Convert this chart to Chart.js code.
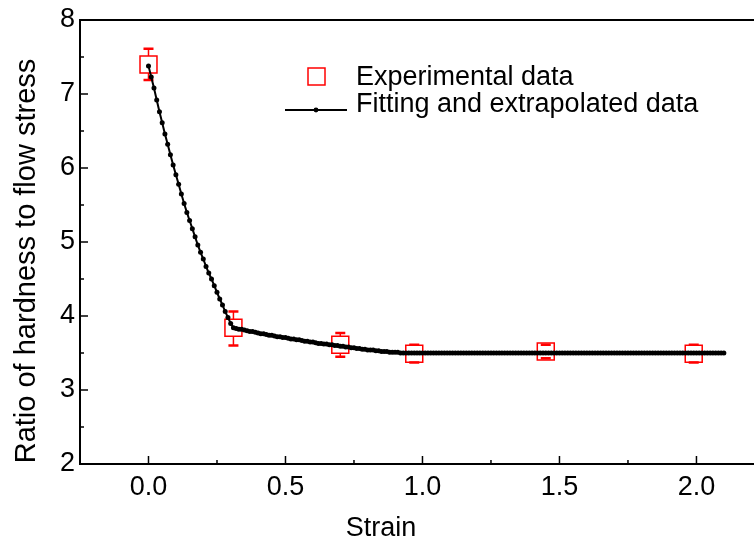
<!DOCTYPE html>
<html>
<head>
<meta charset="utf-8">
<script src="https://cdn.jsdelivr.net/npm/chart.js@4/dist/chart.umd.min.js"></script>
<style>
  html, body { margin: 0; padding: 0; background: #fff; overflow: hidden; }
  #chart { display: block; }
</style>
</head>
<body>
<canvas id="chart" width="754" height="549"></canvas>
<script>
// Experimental points with error bars
const expStrain = [0, 0.31, 0.70, 0.97, 1.45, 1.99];
const expRatio = [7.40, 3.84, 3.61, 3.49, 3.52, 3.49];
const expErrLow = [7.19, 3.60, 3.45, 3.37, 3.43, 3.37];
const expErrHigh = [7.61, 4.06, 3.77, 3.61, 3.61, 3.61];

// Fitted + extrapolated curve (one dot per 0.01 strain)
const fitStrain = [
  0.00, 0.01, 0.02, 0.03, 0.04, 0.05, 0.06, 0.07, 0.08, 0.09,
  0.10, 0.11, 0.12, 0.13, 0.14, 0.15, 0.16, 0.17, 0.18, 0.19,
  0.20, 0.21, 0.22, 0.23, 0.24, 0.25, 0.26, 0.27, 0.28, 0.29,
  0.30, 0.31, 0.32, 0.33, 0.34, 0.35, 0.36, 0.37, 0.38, 0.39,
  0.40, 0.41, 0.42, 0.43, 0.44, 0.45, 0.46, 0.47, 0.48, 0.49,
  0.50, 0.51, 0.52, 0.53, 0.54, 0.55, 0.56, 0.57, 0.58, 0.59,
  0.60, 0.61, 0.62, 0.63, 0.64, 0.65, 0.66, 0.67, 0.68, 0.69,
  0.70, 0.71, 0.72, 0.73, 0.74, 0.75, 0.76, 0.77, 0.78, 0.79,
  0.80, 0.81, 0.82, 0.83, 0.84, 0.85, 0.86, 0.87, 0.88, 0.89,
  0.90, 0.91, 0.92, 0.93, 0.94, 0.95, 0.96, 0.97, 0.98, 0.99,
  1.00, 1.01, 1.02, 1.03, 1.04, 1.05, 1.06, 1.07, 1.08, 1.09,
  1.10, 1.11, 1.12, 1.13, 1.14, 1.15, 1.16, 1.17, 1.18, 1.19,
  1.20, 1.21, 1.22, 1.23, 1.24, 1.25, 1.26, 1.27, 1.28, 1.29,
  1.30, 1.31, 1.32, 1.33, 1.34, 1.35, 1.36, 1.37, 1.38, 1.39,
  1.40, 1.41, 1.42, 1.43, 1.44, 1.45, 1.46, 1.47, 1.48, 1.49,
  1.50, 1.51, 1.52, 1.53, 1.54, 1.55, 1.56, 1.57, 1.58, 1.59,
  1.60, 1.61, 1.62, 1.63, 1.64, 1.65, 1.66, 1.67, 1.68, 1.69,
  1.70, 1.71, 1.72, 1.73, 1.74, 1.75, 1.76, 1.77, 1.78, 1.79,
  1.80, 1.81, 1.82, 1.83, 1.84, 1.85, 1.86, 1.87, 1.88, 1.89,
  1.90, 1.91, 1.92, 1.93, 1.94, 1.95, 1.96, 1.97, 1.98, 1.99,
  2.00, 2.01, 2.02, 2.03, 2.04, 2.05, 2.06, 2.07, 2.08, 2.09,
  2.10
];
const fitRatio = [
  7.38, 7.23, 7.08, 6.92, 6.76, 6.61, 6.46, 6.32, 6.18, 6.04,
  5.91, 5.78, 5.65, 5.52, 5.40, 5.29, 5.18, 5.07, 4.96, 4.86,
  4.77, 4.67, 4.58, 4.50, 4.41, 4.32, 4.23, 4.15, 4.06, 3.98,
  3.90, 3.84, 3.83, 3.82, 3.82, 3.81, 3.80, 3.79, 3.79, 3.78,
  3.77, 3.76, 3.76, 3.75, 3.74, 3.74, 3.73, 3.72, 3.72, 3.71,
  3.71, 3.70, 3.69, 3.69, 3.68, 3.68, 3.67, 3.66, 3.66, 3.65,
  3.65, 3.64, 3.63, 3.63, 3.62, 3.62, 3.61, 3.61, 3.60, 3.60,
  3.59, 3.59, 3.58, 3.58, 3.57, 3.57, 3.56, 3.56, 3.55, 3.55,
  3.54, 3.54, 3.54, 3.53, 3.53, 3.52, 3.52, 3.52, 3.51, 3.51,
  3.51, 3.51, 3.50, 3.50, 3.50, 3.50, 3.50, 3.50, 3.50, 3.50,
  3.50, 3.50, 3.50, 3.50, 3.50, 3.50, 3.50, 3.50, 3.50, 3.50,
  3.50, 3.50, 3.50, 3.50, 3.50, 3.50, 3.50, 3.50, 3.50, 3.50,
  3.50, 3.50, 3.50, 3.50, 3.50, 3.50, 3.50, 3.50, 3.50, 3.50,
  3.50, 3.50, 3.50, 3.50, 3.50, 3.50, 3.50, 3.50, 3.50, 3.50,
  3.50, 3.50, 3.50, 3.50, 3.50, 3.50, 3.50, 3.50, 3.50, 3.50,
  3.50, 3.50, 3.50, 3.50, 3.50, 3.50, 3.50, 3.50, 3.50, 3.50,
  3.50, 3.50, 3.50, 3.50, 3.50, 3.50, 3.50, 3.50, 3.50, 3.50,
  3.50, 3.50, 3.50, 3.50, 3.50, 3.50, 3.50, 3.50, 3.50, 3.50,
  3.50, 3.50, 3.50, 3.50, 3.50, 3.50, 3.50, 3.50, 3.50, 3.50,
  3.50, 3.50, 3.50, 3.50, 3.50, 3.50, 3.50, 3.50, 3.50, 3.50,
  3.50, 3.50, 3.50, 3.50, 3.50, 3.50, 3.50, 3.50, 3.50, 3.50,
  3.50
];

// Axis ticks
const xTickValues = [0, 0.5, 1.0, 1.5, 2.0];
const xTickLabels = ["0.0", "0.5", "1.0", "1.5", "2.0"];
const xMinorTicks = [0.25, 0.75, 1.25, 1.75];
const yTickValues = [2, 3, 4, 5, 6, 7, 8];
const yTickLabels = ["2", "3", "4", "5", "6", "7", "8"];
const yMinorTicks = [2.5, 3.5, 4.5, 5.5, 6.5, 7.5];

const seriesLabels = ["Experimental data", "Fitting and extrapolated data"];
const xTitle = "Strain";
const yTitle = "Ratio of hardness to flow stress";

const FONT = '"Liberation Sans", Arial, sans-serif';
const RED = "#ff0000";
const BOX_HALF = 8.5;

Chart.defaults.font.family = FONT;
Chart.defaults.color = "#000";

// error bars under the markers
const errorBars = {
  id: "errorBars",
  beforeDatasetsDraw(chart) {
    const ctx = chart.ctx;
    const xs = chart.scales.x, ys = chart.scales.y;
    ctx.save();
    ctx.strokeStyle = RED;
    for (let i = 0; i < expStrain.length; i++) {
      const px = xs.getPixelForValue(expStrain[i]);
      const py = ys.getPixelForValue(expRatio[i]);
      const hi = ys.getPixelForValue(expErrHigh[i]);
      const lo = ys.getPixelForValue(expErrLow[i]);
      ctx.lineWidth = 1.5;
      ctx.beginPath();
      if (hi < py - BOX_HALF) { ctx.moveTo(px, py - BOX_HALF); ctx.lineTo(px, hi); }
      if (lo > py + BOX_HALF) { ctx.moveTo(px, py + BOX_HALF); ctx.lineTo(px, lo); }
      ctx.stroke();
      ctx.lineWidth = 2.5;
      ctx.beginPath();
      ctx.moveTo(px - 5, hi); ctx.lineTo(px + 5, hi);
      ctx.moveTo(px - 5, lo); ctx.lineTo(px + 5, lo);
      ctx.stroke();
    }
    ctx.restore();
  }
};

// frame, inward ticks, axis titles and legend
const frameAndLegend = {
  id: "frameAndLegend",
  afterDraw(chart) {
    const ctx = chart.ctx;
    const a = chart.chartArea;
    const xs = chart.scales.x, ys = chart.scales.y;
    ctx.save();
    ctx.strokeStyle = "#000";
    ctx.lineWidth = 2;
    ctx.beginPath();
    ctx.moveTo(a.right, a.top); ctx.lineTo(a.left, a.top);
    ctx.lineTo(a.left, a.bottom); ctx.lineTo(a.right, a.bottom);
    ctx.stroke();

    ctx.lineWidth = 1.5;
    ctx.beginPath();
    xTickValues.forEach(v => { const p = xs.getPixelForValue(v); ctx.moveTo(p, a.bottom); ctx.lineTo(p, a.bottom - 8); });
    xMinorTicks.forEach(v => { const p = xs.getPixelForValue(v); ctx.moveTo(p, a.bottom); ctx.lineTo(p, a.bottom - 4); });
    yTickValues.forEach(v => { const p = ys.getPixelForValue(v); ctx.moveTo(a.left, p); ctx.lineTo(a.left + 8, p); });
    yMinorTicks.forEach(v => { const p = ys.getPixelForValue(v); ctx.moveTo(a.left, p); ctx.lineTo(a.left + 4, p); });
    ctx.stroke();

    ctx.fillStyle = "#000";
    ctx.textAlign = "center";
    ctx.textBaseline = "middle";
    ctx.font = "27px " + FONT;
    ctx.fillText(xTitle, 381, 529);
    ctx.save();
    ctx.translate(27, 261);
    ctx.rotate(-Math.PI / 2);
    ctx.font = "29px " + FONT;
    ctx.fillText(yTitle, 0, 0);
    ctx.restore();

    // legend
    ctx.strokeStyle = RED;
    ctx.lineWidth = 1.5;
    ctx.strokeRect(308, 68, 17, 17);
    ctx.strokeStyle = "#000";
    ctx.lineWidth = 2;
    ctx.beginPath();
    ctx.moveTo(285, 110); ctx.lineTo(347, 110);
    ctx.stroke();
    ctx.beginPath();
    ctx.arc(316, 110, 2.4, 0, Math.PI * 2);
    ctx.fill();
    ctx.font = "27px " + FONT;
    ctx.textAlign = "left";
    ctx.fillText(seriesLabels[0], 356, 78);
    ctx.fillText(seriesLabels[1], 356, 105);
    ctx.restore();
  }
};

new Chart(document.getElementById("chart"), {
  type: "scatter",
  data: {
    datasets: [
      {
        label: seriesLabels[1],
        data: fitStrain.map((x, i) => ({ x: x, y: fitRatio[i] })),
        showLine: true,
        borderColor: "#000",
        backgroundColor: "#000",
        borderWidth: 2,
        pointRadius: 2.5,
        pointBorderWidth: 0,
        order: 1
      },
      {
        label: seriesLabels[0],
        data: expStrain.map((x, i) => ({ x: x, y: expRatio[i] })),
        pointStyle: "rect",
        pointRadius: 12,
        borderColor: RED,
        backgroundColor: "rgba(0,0,0,0)",
        pointBorderWidth: 1.5,
        borderWidth: 1.5,
        order: 2
      }
    ]
  },
  options: {
    responsive: false,
    maintainAspectRatio: false,
    devicePixelRatio: 1,
    animation: false,
    layout: { autoPadding: false, padding: { top: 20, right: 0, left: 0, bottom: 0 } },
    plugins: { legend: { display: false }, tooltip: { enabled: false } },
    scales: {
      x: {
        type: "linear",
        min: -0.25,
        max: 2.21,
        grid: { display: false, drawTicks: false, tickLength: 0 },
        border: { display: false },
        afterBuildTicks: s => { s.ticks = xTickValues.map(v => ({ value: v })); },
        afterFit: s => { s.height = 85; s.paddingLeft = 0; s.paddingRight = 0; },
        ticks: {
          padding: 7,
          font: { size: 27 },
          color: "#000",
          maxRotation: 0,
          callback: (v) => xTickLabels[xTickValues.indexOf(v)]
        }
      },
      y: {
        type: "linear",
        min: 2,
        max: 8,
        grid: { display: false, drawTicks: false, tickLength: 0 },
        border: { display: false },
        afterBuildTicks: s => { s.ticks = yTickValues.map(v => ({ value: v })); },
        afterFit: s => { s.width = 80; s.paddingTop = 0; s.paddingBottom = 0; },
        ticks: {
          padding: 5,
          font: { size: 27 },
          color: "#000",
          callback: (v) => yTickLabels[yTickValues.indexOf(v)]
        }
      }
    }
  },
  plugins: [errorBars, frameAndLegend]
});
</script>
</body>
</html>
